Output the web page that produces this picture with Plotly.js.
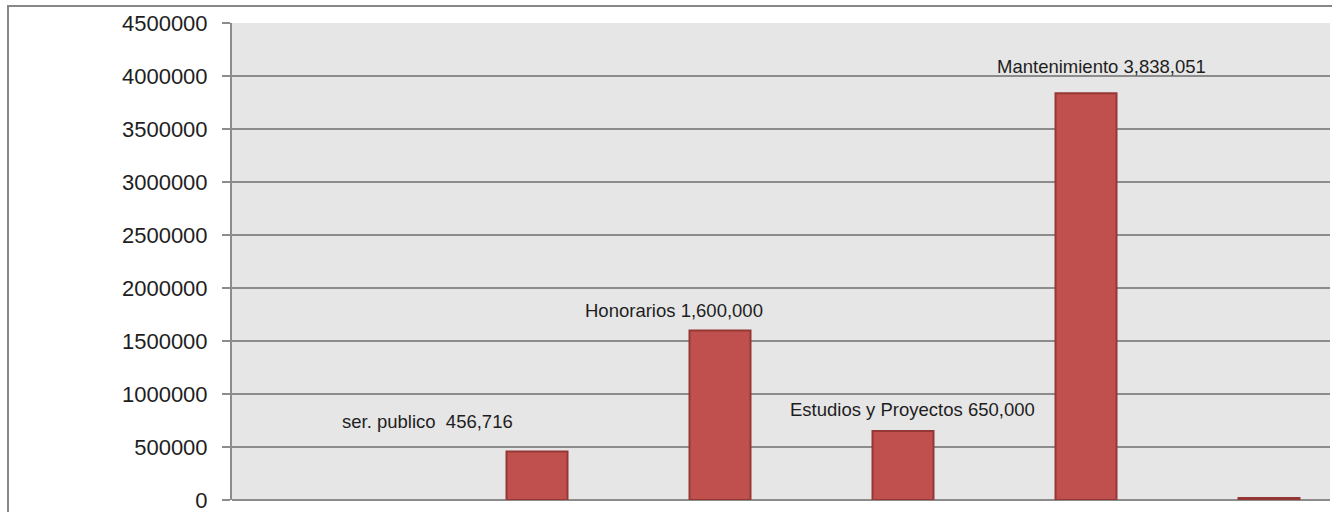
<!DOCTYPE html>
<html>
<head>
<meta charset="utf-8">
<script src="https://cdn.plot.ly/plotly-3.0.1.min.js"></script>
<style>
  html, body { margin: 0; padding: 0; background: #ffffff; overflow: hidden; width: 1332px; height: 512px; }
  #frame { position: absolute; left: 7px; top: 5px; width: 1330px; height: 512px;
           border-left: 2px solid #878787; border-top: 2px solid #878787; box-sizing: border-box; }
  #chart { position: absolute; left: 0; top: 0; width: 1332px; height: 540px; }
</style>
</head>
<body>
<div id="frame"></div>
<div id="chart"></div>
<script>
// Data
const categories = ["", "ser. publico", "Honorarios", "Estudios y Proyectos", "Mantenimiento", "Otros"];
const seriesHidden = [null, null, null, null, null, null];
const seriesValues = [null, 456716, 1600000, 650000, 3838051, 20000];
const labelTexts = ["ser. publico\u00a0 456,716", "Honorarios 1,600,000", "Estudios y Proyectos 650,000", "Mantenimiento 3,838,051"];
const yTickVals = [0, 500000, 1000000, 1500000, 2000000, 2500000, 3000000, 3500000, 4000000, 4500000];
const yTickText = ["0", "500000", "1000000", "1500000", "2000000", "2500000", "3000000", "3500000", "4000000", "4500000"];

// Label anchor positions (category index units, data units)
const labelX = [0.566, 1.915, 3.216, 4.254];
const labelY = [745000, 1792000, 858500, 4094000];

const gridColor = "#8c8c8c";
const fontFam = "'Liberation Sans', Arial, sans-serif";
const textColor = "#1e1e1e";

const traces = [
  { type: "bar", x: categories, y: seriesHidden, marker: { color: "#4f81bd" }, hoverinfo: "skip" },
  { type: "bar", x: categories, y: seriesValues,
    marker: { color: "#c0504d", line: { color: "#953735", width: 2 } } }
];

const annotations = labelTexts.map((t, i) => ({
  x: labelX[i], y: labelY[i], xref: "x", yref: "y", text: t, showarrow: false,
  xanchor: "center", yanchor: "middle",
  font: { family: fontFam, size: 18.5, color: textColor }
}));

const layout = {
  width: 1332, height: 540,
  margin: { l: 232, r: 2, t: 23, b: 40, pad: 0 },
  paper_bgcolor: "rgba(0,0,0,0)",
  plot_bgcolor: "#e6e6e6",
  showlegend: false,
  barmode: "group",
  bargap: 1/3,
  bargroupgap: 0,
  font: { family: fontFam, color: textColor },
  xaxis: {
    type: "category", range: [-0.5, 5.5], showticklabels: false, ticks: "",
    showgrid: false, zeroline: false, showline: false, fixedrange: true
  },
  yaxis: {
    range: [0, 4500000], tickvals: yTickVals, ticktext: yTickText,
    ticks: "outside", ticklen: 8, tickwidth: 2, tickcolor: gridColor,
    showgrid: true, gridcolor: gridColor, gridwidth: 2,
    zeroline: true, zerolinecolor: gridColor, zerolinewidth: 2,
    showline: true, linecolor: gridColor, linewidth: 2,
    ticklabelstandoff: 10,
    tickfont: { family: fontFam, size: 22, color: textColor }
  },
  annotations: annotations
};

Plotly.newPlot("chart", traces, layout, { staticPlot: true, displayModeBar: false });
</script>
</body>
</html>
